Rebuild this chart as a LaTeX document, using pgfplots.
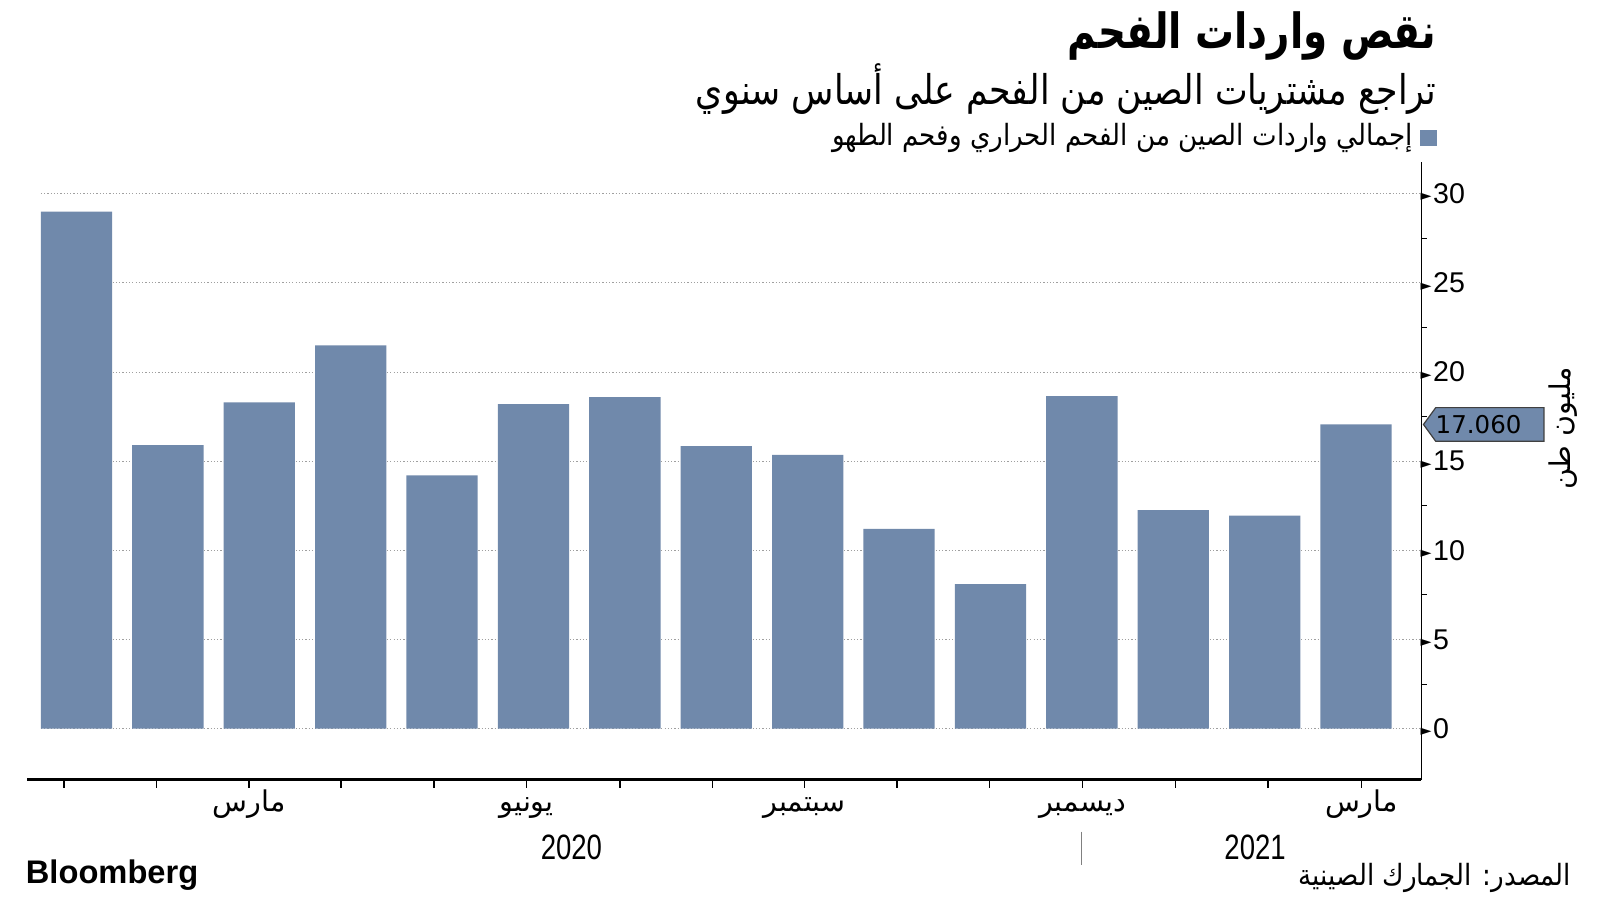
\documentclass[border=0pt]{standalone}
\usepackage{pgfplots}
\pgfplotsset{compat=1.18}
\usepackage{fontspec}
\setmainfont{Liberation Sans}
\TeXXeTstate=1
\newfontfamily\arabicfont[Script=Arabic]{DejaVu Sans}
\newfontfamily\dejavu{DejaVu Sans}
\newcommand\ar[1]{{\arabicfont\beginR #1\endR}}
\definecolor{barc}{RGB}{112,137,171}
\begin{document}
\begin{tikzpicture}
\path[use as bounding box] (0,0) rectangle (784pt,441pt);
\begin{axis}[
  at={(13.25pt,59pt)}, anchor=south west, scale only axis,
  width=683.25pt, height=302.5pt,
  xmin=-0.541, xmax=14.715, ymin=-2.86, ymax=31.77,
  clip=false,
  ybar, bar width=0.78,
  axis x line=bottom, axis y line=right, axis line style={-},
  x axis line style={line width=1.3pt},
  y axis line style={line width=0.6pt},
  tick align=outside,
  xtick={-0.140,0.877,1.887,2.893,3.909,4.925,5.948,6.958,7.965,8.976,9.990,11.008,12.023,13.034,14.058},
  xticklabels={,,\ar{مارس},,,\ar{يونيو},,,\ar{سبتمبر},,,\ar{ديسمبر},,,\ar{مارس}},
  xticklabel style={font=\fontsize{14}{16}\selectfont, anchor=base, yshift=-11.5pt},
  major tick length=4pt, minor tick length=2.5pt,
  xtick style={line width=0.8pt, black},
  ytick={0,5,...,30}, minor ytick={2.5,7.5,...,27.5},
  ytick style={line width=0.5pt, black},
  every major y tick/.append style={draw=none},
  /pgf/number format/assume math mode=true,
  yticklabel={{\dejavu\fontsize{7}{7}\selectfont\raisebox{0.35ex}{►}}\hspace{0.8pt}\pgfmathprintnumber{\tick}},
  yticklabel style={anchor=west, inner sep=0pt, xshift=-4.6pt, font=\fontsize{14}{16}\selectfont},
]
\pgfplotsinvokeforeach{0,5,...,30}{
  \draw[gray!75, line width=0.5pt, dash pattern=on 0.6pt off 1pt] (axis cs:-0.39,#1) -- (axis cs:14.715,#1);
}
\addplot[fill=barc, draw=none] coordinates {
(0,29.0) (1,15.9) (2,18.3) (3,21.5) (4,14.2) (5,18.2) (6,18.6) (7,15.85)
(8,15.35) (9,11.2) (10,8.1) (11,18.65) (12,12.25) (13,11.95) (14,17.06)};
\coordinate (flagtip) at (axis cs:14.715,17.06);
\end{axis}
\draw[fill=barc, draw=black!75, line width=0.6pt] ([xshift=1pt]flagtip) -- ++(6pt,8.25pt) -- ++(53pt,0) -- ++(0,-16.5pt) -- ++(-53pt,0) -- cycle;
\node[font=\dejavu\fontsize{12}{14}\selectfont, inner sep=0pt] at ([xshift=28pt]flagtip) {17.060};
\begin{scope}[x=0.5pt,y=-0.5pt,shift={(0pt,441pt)}]
% titles
\node[anchor=east, inner sep=0pt, font=\arabicfont\bfseries\fontsize{19}{22}\selectfont] at (1408,35) {\scalebox{1}[1.25]{\beginR نقص واردات الفحم\endR}};
\node[anchor=east, inner sep=0pt, font=\arabicfont\fontsize{17}{20}\selectfont] at (1408,87) {\scalebox{1}[1.18]{\beginR تراجع مشتريات الصين من الفحم على أساس سنوي\endR}};
\fill[barc] (1392,127) rectangle (1408,143);
\node[anchor=east, inner sep=0pt, font=\arabicfont\fontsize{12.8}{15}\selectfont] at (1385,135) {\scalebox{1}[1.12]{\beginR إجمالي واردات الصين من الفحم الحراري وفحم الطهو\endR}};
\node[rotate=90, inner sep=0pt, font=\arabicfont\fontsize{14}{16}\selectfont] at (1532,420) {\beginR مليون طن\endR};
% years
\node[inner sep=0pt, font=\fontsize{15}{17}\selectfont] at (560,830) {\scalebox{0.9}[1.15]{2020}};
\node[inner sep=0pt, font=\fontsize{15}{17}\selectfont] at (1230,830) {\scalebox{0.9}[1.15]{2021}};
\draw[gray, line width=0.7pt] (1060,815) -- (1060,848);
% footer
\node[anchor=west, inner sep=0pt, font=\bfseries\fontsize{16}{18}\selectfont] at (25,858) {Bloomberg};
\node[anchor=east, inner sep=0pt, font=\arabicfont\fontsize{12.8}{15}\selectfont] at (1540,860) {\scalebox{1}[1.12]{\beginR المصدر: الجمارك الصينية\endR}};
\end{scope}
\end{tikzpicture}
\end{document}
